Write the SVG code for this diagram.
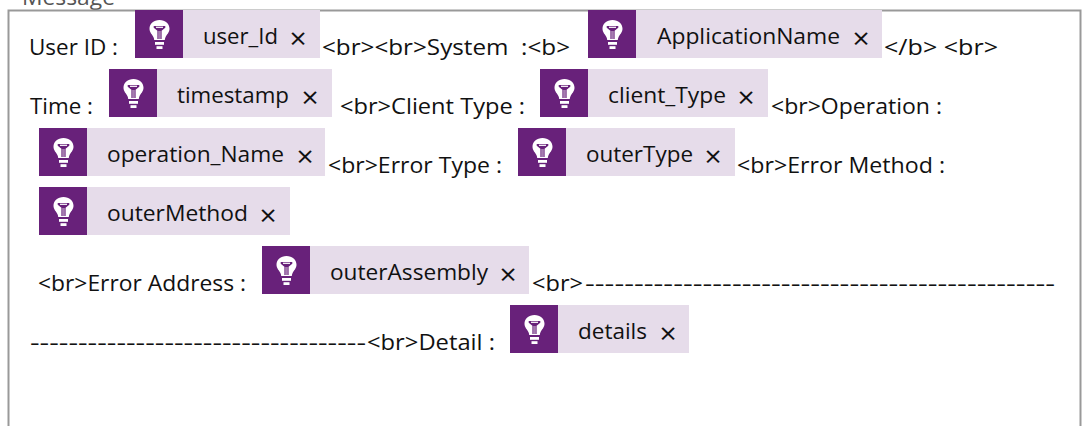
<svg xmlns="http://www.w3.org/2000/svg" width="1091" height="426" viewBox="0 0 1091 426">
<style>
text{font-family:"Open Sans","Noto Sans","Liberation Sans",sans-serif;fill:#111;font-size:22px;white-space:pre}
.c{fill:#e6dcea}
.p{fill:#68217a}
.x{font-size:30px;text-anchor:middle}
</style>
<defs>
<g id="bulb">
<path d="M24.500 10c-5.800 0-10 3.800-10 8.800 0 3.800 2.800 5.700 4 8.500 .4 .9 .6 1.800 .7 2.700h10.600c.1-.9 .3-1.800 .7-2.700 1.200-2.800 4-4.700 4-8.500 0-5-4.200-8.800-10-8.800z" fill="#fff"/>
<path d="M18.700 16h11.600v1.800l-3.700 3v8.200h-4.200v-8.200l-3.700-3z" fill="#68217a"/>
<path d="M21 17.300h7" stroke="#fff" stroke-width="1.200"/>
<path d="M23.900 21v8M25.100 21v8" stroke="#fff" stroke-width=".6"/>
<rect x="20" y="32" width="9" height="2.800" fill="#fff"/>
<rect x="21.500" y="36.200" width="6" height="2.800" fill="#fff"/>
</g>
</defs>
<text x="22" y="5" style="fill:#555" textLength="93" lengthAdjust="spacingAndGlyphs">Message</text>
<path d="M8.500 426V10.500H1080.500V426" fill="none" stroke="#999" stroke-width="2"/>
<g id="labels">
<text x="29" y="55" textLength="89" lengthAdjust="spacingAndGlyphs">User ID :</text>
<text x="322" y="55" textLength="248" lengthAdjust="spacingAndGlyphs">&lt;br&gt;&lt;br&gt;System  :&lt;b&gt;</text>
<text x="884" y="55" textLength="114" lengthAdjust="spacingAndGlyphs">&lt;/b&gt; &lt;br&gt;</text>
<text x="30" y="114" textLength="63" lengthAdjust="spacingAndGlyphs">Time :</text>
<text x="340" y="114" textLength="185" lengthAdjust="spacingAndGlyphs">&lt;br&gt;Client Type :</text>
<text x="771" y="114" textLength="171" lengthAdjust="spacingAndGlyphs">&lt;br&gt;Operation :</text>
<text x="328" y="173" textLength="174" lengthAdjust="spacingAndGlyphs">&lt;br&gt;Error Type :</text>
<text x="737" y="173" textLength="208" lengthAdjust="spacingAndGlyphs">&lt;br&gt;Error Method :</text>
<text x="38" y="291" textLength="208" lengthAdjust="spacingAndGlyphs">&lt;br&gt;Error Address :</text>
<text x="532" y="291" textLength="51" lengthAdjust="spacingAndGlyphs">&lt;br&gt;</text>
<text x="585" y="291" textLength="470" lengthAdjust="spacingAndGlyphs">------------------------------------------------</text>
<text x="30" y="350" textLength="336" lengthAdjust="spacingAndGlyphs">-----------------------------------</text>
<text x="367" y="350" textLength="128" lengthAdjust="spacingAndGlyphs">&lt;br&gt;Detail :</text>
</g>
<g id="chip-user_Id"><rect class="c" x="135" y="10" width="185" height="48"/><rect class="p" x="135" y="10" width="48" height="48"/><use href="#bulb" x="135" y="10"/><text x="203" y="44" textLength="75" lengthAdjust="spacingAndGlyphs">user_Id</text><text class="x" x="298" y="49">×</text></g>
<g id="chip-ApplicationName"><rect class="c" x="588" y="10" width="294" height="48"/><rect class="p" x="588" y="10" width="48" height="48"/><use href="#bulb" x="588" y="10"/><text x="657" y="44" textLength="183" lengthAdjust="spacingAndGlyphs">ApplicationName</text><text class="x" x="861" y="49">×</text></g>
<g id="chip-timestamp"><rect class="c" x="109" y="69" width="223" height="48"/><rect class="p" x="109" y="69" width="48" height="48"/><use href="#bulb" x="109" y="69"/><text x="177" y="103" textLength="112" lengthAdjust="spacingAndGlyphs">timestamp</text><text class="x" x="310" y="108">×</text></g>
<g id="chip-client_Type"><rect class="c" x="540" y="69" width="228" height="48"/><rect class="p" x="540" y="69" width="48" height="48"/><use href="#bulb" x="540" y="69"/><text x="608" y="103" textLength="118" lengthAdjust="spacingAndGlyphs">client_Type</text><text class="x" x="746" y="108">×</text></g>
<g id="chip-operation_Name"><rect class="c" x="39" y="128" width="286" height="48"/><rect class="p" x="39" y="128" width="48" height="48"/><use href="#bulb" x="39" y="128"/><text x="107" y="162" textLength="177" lengthAdjust="spacingAndGlyphs">operation_Name</text><text class="x" x="305" y="167">×</text></g>
<g id="chip-outerType"><rect class="c" x="518" y="128" width="217" height="48"/><rect class="p" x="518" y="128" width="48" height="48"/><use href="#bulb" x="518" y="128"/><text x="586" y="162" textLength="107" lengthAdjust="spacingAndGlyphs">outerType</text><text class="x" x="713" y="167">×</text></g>
<g id="chip-outerMethod"><rect class="c" x="39" y="187" width="251" height="48"/><rect class="p" x="39" y="187" width="48" height="48"/><use href="#bulb" x="39" y="187"/><text x="107" y="221" textLength="141" lengthAdjust="spacingAndGlyphs">outerMethod</text><text class="x" x="268" y="226">×</text></g>
<g id="chip-outerAssembly"><rect class="c" x="262" y="246" width="267" height="48"/><rect class="p" x="262" y="246" width="48" height="48"/><use href="#bulb" x="262" y="246"/><text x="330" y="280" textLength="158" lengthAdjust="spacingAndGlyphs">outerAssembly</text><text class="x" x="508" y="285">×</text></g>
<g id="chip-details"><rect class="c" x="510" y="305" width="179" height="48"/><rect class="p" x="510" y="305" width="48" height="48"/><use href="#bulb" x="510" y="305"/><text x="578" y="339" textLength="69" lengthAdjust="spacingAndGlyphs">details</text><text class="x" x="668" y="344">×</text></g>
<g id="connectors"/>
</svg>
